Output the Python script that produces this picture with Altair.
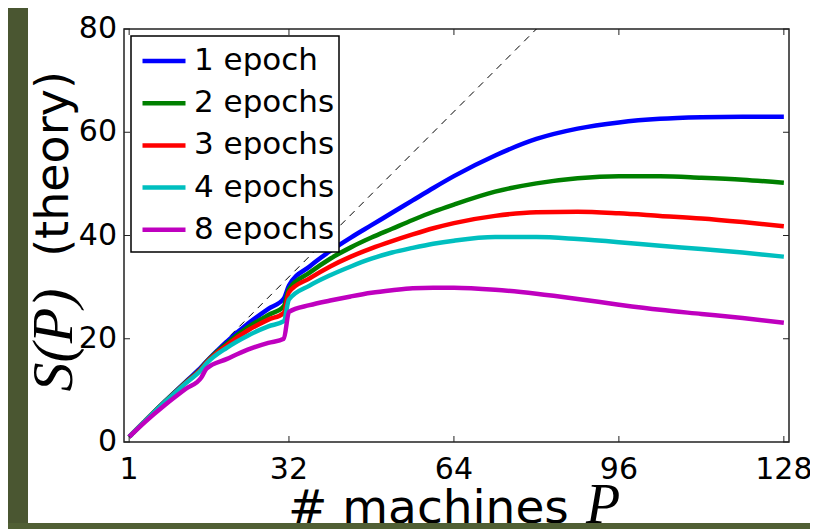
import altair as alt
import pandas as pd

# ---- data ----
P = [1, 4, 8, 12, 15, 16, 20, 24, 28, 31, 32, 36, 40, 44, 48, 52, 56, 60, 64,
     72, 80, 88, 96, 104, 112, 120, 128]
series_names = ["1 epoch", "2 epochs", "3 epochs", "4 epochs", "8 epochs"]
s1 = [1.0, 4.0, 7.9, 11.7, 14.5, 15.6, 19.5, 22.9, 25.8, 27.8, 30.3, 34.0, 37.0, 39.6,
      42.0, 44.4, 46.8, 49.2, 51.5, 55.5, 58.7, 60.7, 61.9, 62.6, 62.9, 63.0, 63.0]
s2 = [1.0, 4.0, 7.9, 11.6, 14.3, 15.5, 19.1, 22.2, 24.6, 26.3, 29.6, 32.8, 35.5, 37.7,
      39.6, 41.3, 43.0, 44.6, 46.0, 48.5, 50.1, 51.1, 51.5, 51.5, 51.2, 50.8, 50.2]
s3 = [1.0, 4.0, 7.8, 11.5, 14.2, 15.4, 18.8, 21.6, 23.7, 25.0, 29.0, 31.7, 34.0, 35.9,
      37.5, 38.9, 40.2, 41.4, 42.4, 43.8, 44.5, 44.6, 44.3, 43.8, 43.3, 42.6, 41.8]
s4 = [1.0, 4.0, 7.8, 11.4, 14.0, 15.2, 18.3, 20.6, 22.4, 23.4, 27.6, 30.3, 32.3, 34.0,
      35.5, 36.7, 37.6, 38.4, 39.0, 39.7, 39.7, 39.3, 38.7, 38.0, 37.4, 36.7, 35.9]
s8 = [1.0, 3.8, 7.2, 10.3, 12.5, 14.2, 16.1, 17.9, 19.2, 20.0, 25.2, 26.5, 27.4, 28.2,
      28.9, 29.4, 29.8, 29.9, 29.9, 29.5, 28.7, 27.7, 26.6, 25.6, 24.8, 24.0, 23.1]
series_colors = ["#0000FF", "#008000", "#FF0000", "#00BFBF", "#BF00BF"]

diag_x = [1, 80]
diag_y = [1, 80]

xticks = [1, 32, 64, 96, 128]
xtick_labels = ["1", "32", "64", "96", "128"]
yticks = [0, 20, 40, 60, 80]
ytick_labels = ["0", "20", "40", "60", "80"]

x_title = "# machines"
x_title_var = "P"
y_title_var = "S(P)"
y_title = "(theory)"

# ---- tables ----
rows = []
for name, vals in zip(series_names, [s1, s2, s3, s4, s8]):
    for p, v in zip(P, vals):
        rows.append({"P": p, "S": v, "series": name})
df = pd.DataFrame(rows)
df_diag = pd.DataFrame({"P": diag_x, "S": diag_y})
df_xt = pd.DataFrame({"t": xticks, "label": xtick_labels})
df_yt = pd.DataFrame({"t": yticks, "label": ytick_labels})
one = pd.DataFrame({"a": [0]})

W, H = 665, 413
SANS = "DejaVu Sans"
SERIF = "Liberation Serif"
STRIP = "#4a5631"

xs = alt.Scale(domain=[0, 129], nice=False, zero=False)
ys = alt.Scale(domain=[0, 80], nice=False, zero=False)

diag = alt.Chart(df_diag).mark_line(color="black", strokeWidth=1, strokeDash=[7, 6]).encode(
    x=alt.X("P:Q", scale=xs, axis=None),
    y=alt.Y("S:Q", scale=ys, axis=None),
)

lines = alt.Chart(df).mark_line(strokeWidth=4.5, interpolate="monotone").encode(
    x=alt.X("P:Q", scale=xs, axis=None),
    y=alt.Y("S:Q", scale=ys, axis=None),
    color=alt.Color(
        "series:N",
        scale=alt.Scale(domain=series_names, range=series_colors),
        sort=series_names,
        legend=alt.Legend(
            title=None, orient="none", legendX=16, legendY=8, padding=0,
            strokeColor="transparent", fillColor="transparent",
            symbolType="stroke", symbolSize=1849, symbolStrokeWidth=4.5,
            labelFont=SANS, labelFontSize=31, labelColor="black",
            labelOffset=6, rowPadding=3.2, labelLimit=0,
        ),
    ),
)

legend_box = alt.Chart(one).mark_rect(fill="white", stroke="black", strokeWidth=1.5).encode(
    x=alt.value(7), x2=alt.value(215), y=alt.value(7), y2=alt.value(223))

xt_bot = alt.Chart(df_xt).mark_rule(color="#222", strokeWidth=1).encode(
    x=alt.X("t:Q", scale=xs, axis=None), y=alt.value(H), y2=alt.value(H - 6))
xt_top = alt.Chart(df_xt).mark_rule(color="#222", strokeWidth=1).encode(
    x=alt.X("t:Q", scale=xs, axis=None), y=alt.value(0), y2=alt.value(6))
yt_left = alt.Chart(df_yt).mark_rule(color="#222", strokeWidth=1).encode(
    y=alt.Y("t:Q", scale=ys, axis=None), x=alt.value(0), x2=alt.value(6))
yt_right = alt.Chart(df_yt).mark_rule(color="#222", strokeWidth=1).encode(
    y=alt.Y("t:Q", scale=ys, axis=None), x=alt.value(W), x2=alt.value(W - 6))

xlab = alt.Chart(df_xt).mark_text(font=SANS, fontSize=30, color="black",
                                  align="center", baseline="alphabetic").encode(
    x=alt.X("t:Q", scale=xs, axis=None), y=alt.value(450), text="label:N")
ylab = alt.Chart(df_yt).mark_text(font=SANS, fontSize=30, color="black",
                                  align="right", baseline="middle").encode(
    y=alt.Y("t:Q", scale=ys, axis=None), x=alt.value(-7), text="label:N")

xt1 = alt.Chart(one).mark_text(font=SANS, fontSize=47, color="black",
                               align="left", baseline="alphabetic").encode(
    x=alt.value(164), y=alt.value(494), text=alt.value(x_title))
xt2 = alt.Chart(one).mark_text(font=SERIF, fontStyle="italic", fontSize=56, color="black",
                               align="left", baseline="alphabetic").encode(
    x=alt.value(462), y=alt.value(494), text=alt.value(x_title_var))
yt1 = alt.Chart(one).mark_text(font=SERIF, fontStyle="italic", fontSize=58, color="black",
                               align="center", baseline="alphabetic", angle=270).encode(
    x=alt.value(-52), y=alt.value(311), text=alt.value(y_title_var))
yt2 = alt.Chart(one).mark_text(font=SANS, fontSize=46, color="black",
                               align="center", baseline="alphabetic", angle=270).encode(
    x=alt.value(-56), y=alt.value(135), text=alt.value(y_title))

strip_left = alt.Chart(one).mark_rect(color=STRIP).encode(
    x=alt.value(-116), x2=alt.value(-96), y=alt.value(-21), y2=alt.value(500))
strip_bottom = alt.Chart(one).mark_rect(color="#505f34").encode(
    x=alt.value(-116), x2=alt.value(686), y=alt.value(494), y2=alt.value(500))

chart = alt.layer(
    diag, lines, legend_box, xt_bot, xt_top, yt_left, yt_right, xlab, ylab,
    xt1, xt2, yt1, yt2, strip_left, strip_bottom,
).properties(
    width=W, height=H,
    padding={"left": 116, "top": 21, "right": 21, "bottom": 87},
    autosize=alt.AutoSizeParams(type="none"),
    background="white",
).configure_view(stroke="#222", strokeWidth=1.5)

chart.save("out.html", embed_options={"renderer": "svg", "actions": False})
